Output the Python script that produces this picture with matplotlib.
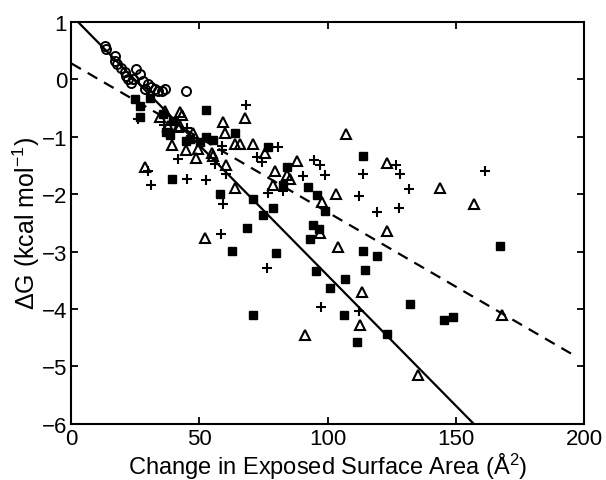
import matplotlib
matplotlib.use("Agg")
import matplotlib.pyplot as plt
import numpy as np

plt.rcParams['font.family'] = ['Liberation Sans', 'DejaVu Sans']
plt.rcParams['mathtext.default'] = 'regular'

# open circles
circ_x = [13.0, 13.5, 16.9, 17.2, 17.8, 19.5, 20.8, 21.5, 22.1, 23.4, 25.4, 26.7,
          28.0, 29.9, 28.6, 31.2, 32.5, 33.8, 35.2, 36.4, 44.9, 24.0]
circ_y = [0.58, 0.53, 0.40, 0.32, 0.26, 0.20, 0.12, 0.05, 0.0, -0.06, 0.17, 0.09,
          -0.03, -0.09, -0.17, -0.13, -0.17, -0.2, -0.2, -0.17, -0.2, 0.0]

# filled squares
sq_x = [25.0, 26.7, 26.7, 30.5, 35.8, 39.7, 37.1, 38.5, 52.7, 46.2, 50.1, 52.7,
        55.3, 63.8, 44.7, 39.1, 57.9, 70.9, 68.7, 62.7, 74.8, 78.8, 79.7, 70.7,
        76.8, 84.0, 82.7, 92.4, 95.7, 99.0, 94.1, 93.1, 96.5, 95.4, 100.9, 106.8,
        106.4, 111.3, 113.9, 119.1, 114.6, 113.9, 123.3, 132.1, 145.4, 148.8, 167.3]
sq_y = [-0.35, -0.47, -0.66, -0.33, -0.61, -0.72, -0.92, -0.97, -0.53, -1.04, -1.1, -1.01,
        -1.05, -0.93, -1.08, -1.74, -1.99, -2.09, -2.59, -2.99, -2.36, -2.24, -3.02, -4.1,
        -1.18, -1.52, -1.84, -1.87, -2.02, -2.3, -2.54, -2.79, -2.6, -3.33, -3.64, -3.48,
        -4.1, -4.58, -2.99, -3.08, -3.32, -1.34, -4.44, -3.91, -4.19, -4.13, -2.9]

# plus signs
pl_x = [26.0, 36.0, 45.0, 41.7, 58.6, 58.6, 56.0, 68.1, 72.3, 74.2, 80.6, 29.9,
        31.2, 45.3, 52.7, 60.5, 59.2, 58.2, 76.4, 76.8, 82.7, 90.5, 94.8, 97.2,
        99.0, 97.3, 112.3, 113.7, 112.3, 119.4, 126.5, 128.4, 131.7, 128.0, 161.4]
pl_y = [-0.69, -0.8, -0.85, -1.39, -1.16, -1.24, -1.48, -0.45, -1.36, -1.44, -1.18, -1.59,
        -1.84, -1.73, -1.75, -1.65, -2.18, -2.7, -3.29, -1.98, -1.94, -1.69, -1.4, -1.49,
        -1.66, -3.96, -4.03, -1.65, -2.03, -2.32, -1.5, -1.65, -1.91, -2.25, -1.6]

# open triangles
tri_x = [36.4, 42.3, 43.0, 37.7, 42.3, 47.5, 39.1, 44.9, 49.5, 48.6, 54.7, 55.3,
         59.2, 59.9, 67.7, 63.8, 65.7, 70.7, 75.5, 60.5, 28.6, 63.8, 52.3, 79.4,
         84.2, 78.8, 85.4, 88.0, 97.0, 97.7, 103.2, 103.9, 107.1, 123.3, 123.3,
         113.3, 112.6, 91.1, 135.4, 143.9, 156.9, 168.2, 41.7, 34.5]
tri_y = [-0.56, -0.58, -0.62, -0.81, -0.81, -0.93, -1.14, -1.24, -1.21, -1.37, -1.28, -1.33,
         -0.75, -0.94, -0.67, -1.13, -1.13, -1.13, -1.28, -1.5, -1.52, -1.89, -2.77, -1.6,
         -1.66, -1.85, -1.74, -1.42, -2.67, -2.14, -1.99, -2.92, -0.95, -1.46, -2.65,
         -3.7, -4.28, -4.45, -5.15, -1.89, -2.18, -4.11, -0.84, -0.65]

# fit lines: intercept, slope, x range
solid_fit = (1.113, -0.0453, 0.0, 157.0)
dash_fit = (0.274, -0.0259, 0.0, 196.0)

fig = plt.figure(figsize=(6.06, 4.81), dpi=100)
ax = fig.add_axes([0.1177, 0.1165, 0.8460, 0.8363])

for fit, ls in [(solid_fit, '-'), (dash_fit, (0, (5, 3.5)))]:
    b, m, x0, x1 = fit
    xs = np.array([x0, x1])
    ax.plot(xs, b + m * xs, color='black', lw=1.6, linestyle=ls, zorder=1)

ax.plot(circ_x, circ_y, 'o', mfc='none', mec='black', ms=6.5, mew=1.4, zorder=2)
ax.plot(sq_x, sq_y, 's', mfc='black', mec='black', ms=5.5, mew=1.0, zorder=3)
ax.plot(pl_x, pl_y, '+', color='black', ms=7, mew=1.5, zorder=3)
ax.plot(tri_x, tri_y, '^', mfc='none', mec='black', ms=7, mew=1.5, zorder=3)

ax.set_xlim(0, 200)
ax.set_ylim(-6, 1)
ax.set_xticks([0, 50, 100, 150, 200])
ax.set_yticks(range(-6, 2))
ax.tick_params(direction='in', top=True, right=True, length=5, width=1.3,
               labelsize=16, pad=3)
for s in ax.spines.values():
    s.set_linewidth(1.5)

ax.set_xlabel('Change in Exposed Surface Area (Å$^{2}$)', fontsize=17, labelpad=1)
ax.set_ylabel('ΔG (kcal mol$^{-1}$)', fontsize=18, labelpad=0)

fig.savefig('out.png', dpi=100)
